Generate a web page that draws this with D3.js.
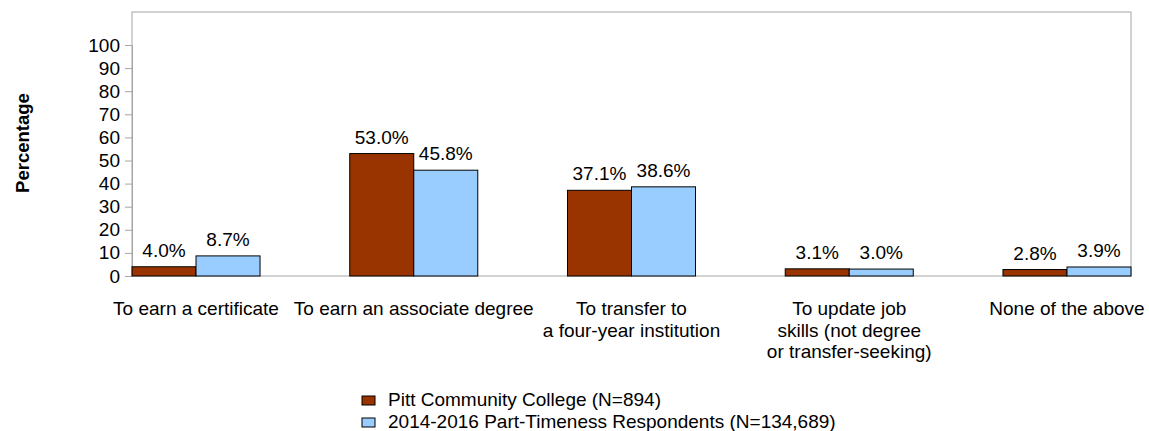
<!DOCTYPE html>
<html>
<head>
<meta charset="utf-8">
<script src="https://cdn.jsdelivr.net/npm/d3@7"></script>
<style>
  body { margin: 0; background: #fff; }
  text { font-family: "Liberation Sans", Arial, sans-serif; }
</style>
</head>
<body>
<svg id="chart" width="1149" height="431"></svg>
<script>
const categories = [
  ["To earn a certificate"],
  ["To earn an associate degree"],
  ["To transfer to", "a four-year institution"],
  ["To update job", "skills (not degree", "or transfer-seeking)"],
  ["None of the above"]
];
const seriesNames = ["Pitt Community College (N=894)", "2014-2016 Part-Timeness Respondents (N=134,689)"];
const pittValues = [4.0, 53.0, 37.1, 3.1, 2.8];
const nationalValues = [8.7, 45.8, 38.6, 3.0, 3.9];
const yTicks = [0, 10, 20, 30, 40, 50, 60, 70, 80, 90, 100];
const colors = ["#993300", "#99CCFF"];

const svg = d3.select("#chart");
const pLeft = 132, pRight = 1131, pTop = 12, pBottom = 276;
const fs = 19;

const y = d3.scaleLinear().domain([0, 100]).range([pBottom, 45]);
const x0 = d3.scaleBand().domain(d3.range(categories.length)).range([pLeft, pRight]).paddingInner(0.412).paddingOuter(0);
const x1 = d3.scaleBand().domain([0, 1]).range([0, x0.bandwidth()]);

// frame
svg.append("rect").attr("x", pLeft).attr("y", pTop).attr("width", pRight - pLeft).attr("height", pBottom - pTop)
  .attr("fill", "none").attr("stroke", "#a6a6a6").attr("stroke-width", 1);

// y axis
const yAxis = svg.append("g").attr("transform", `translate(${pLeft},0)`)
  .call(d3.axisLeft(y).tickValues(yTicks).tickSize(7).tickPadding(5));
yAxis.select(".domain").attr("stroke", "#a6a6a6");
yAxis.selectAll(".tick line").attr("stroke", "#a6a6a6");
yAxis.selectAll(".tick text").attr("font-size", fs).attr("fill", "#000")
  .attr("font-family", "Liberation Sans, Arial, sans-serif");

svg.append("text").attr("transform", `translate(29,143) rotate(-90)`)
  .attr("text-anchor", "middle").attr("font-size", 18.5).attr("font-weight", "bold").text("Percentage");

const data = categories.map((c, i) => ({ i, vals: [pittValues[i], nationalValues[i]] }));
const groups = svg.append("g").selectAll("g").data(data).join("g")
  .attr("transform", d => `translate(${x0(d.i)},0)`);

groups.selectAll("rect").data(d => d.vals.map((v, k) => ({ v, k }))).join("rect")
  .attr("x", d => x1(d.k)).attr("width", x1.bandwidth())
  .attr("y", d => y(d.v)).attr("height", d => pBottom - y(d.v))
  .attr("fill", d => colors[d.k]).attr("stroke", "#000").attr("stroke-width", 1);

groups.selectAll("text.val").data(d => d.vals.map((v, k) => ({ v, k }))).join("text")
  .attr("class", "val")
  .attr("x", d => x1(d.k) + x1.bandwidth() / 2).attr("y", d => y(d.v) - 10)
  .attr("text-anchor", "middle").attr("font-size", fs).text(d => d.v.toFixed(1) + "%");

// category labels
const cl = svg.append("g").selectAll("text").data(data).join("text")
  .attr("x", d => x0(d.i) + x0.bandwidth() / 2).attr("y", 315)
  .attr("text-anchor", "middle").attr("font-size", fs);
cl.selectAll("tspan").data(d => categories[d.i]).join("tspan")
  .attr("x", function() { return d3.select(this.parentNode).attr("x"); })
  .attr("dy", (d, j) => j === 0 ? 0 : 21.5).text(d => d);

// legend
const lg = svg.append("g").selectAll("g").data(seriesNames).join("g")
  .attr("transform", (d, i) => `translate(362,${396 + i * 22})`);
lg.append("rect").attr("width", 13).attr("height", 9).attr("fill", (d, i) => colors[i]).attr("stroke", "#000");
lg.append("text").attr("x", 26).attr("y", 9.5).attr("font-size", fs).text(d => d);
</script>
</body>
</html>
